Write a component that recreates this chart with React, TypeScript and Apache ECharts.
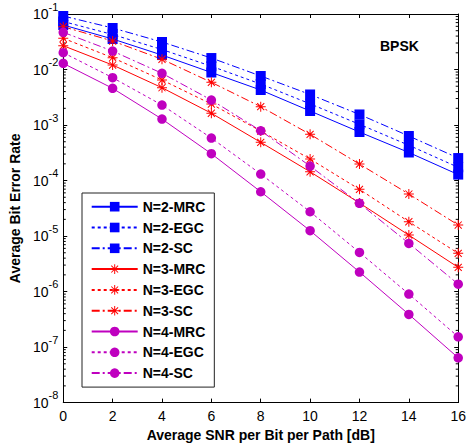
import React, { useEffect, useRef } from 'react';
import * as echarts from 'echarts';

// SNR per bit per path [dB]
const snr = [0, 2, 4, 6, 8, 10, 12, 14, 16];

// N = 2
const ber2MRC = [0.0634, 0.0355, 0.0182, 0.00883, 0.00427, 0.00179, 0.000748, 0.00032, 0.000128];
const ber2EGC = [0.0733, 0.0427, 0.0229, 0.01145, 0.00548, 0.00241, 0.00103, 0.000432, 0.000173];
const ber2SC = [0.092, 0.056, 0.0313, 0.0161, 0.00764, 0.00355, 0.00155, 0.000634, 0.000254];
// N = 3
const ber3MRC = [0.0268, 0.01205, 0.0047, 0.00163, 0.000488, 0.000144, 0.0000394, 0.0000104, 0.00000273];
const ber3EGC = [0.0365, 0.0163, 0.00647, 0.00239, 0.00078, 0.000244, 0.0000694, 0.0000181, 0.00000488];
const ber3SC = [0.059, 0.0326, 0.0153, 0.00588, 0.00214, 0.00068, 0.000198, 0.0000571, 0.0000158];
// N = 4
const ber4MRC = [0.0129, 0.00458, 0.00128, 0.000304, 0.0000628, 0.0000125, 0.00000225, 0.000000388, 0.0000000641];
const ber4EGC = [0.0201, 0.00712, 0.00229, 0.000583, 0.000131, 0.0000274, 0.00000508, 0.000000902, 0.000000153];
const ber4SC = [0.0468, 0.0215, 0.00855, 0.00282, 0.000789, 0.000182, 0.0000388, 0.00000738, 0.00000136];

const seriesNames = [
  'N=2-MRC', 'N=2-EGC', 'N=2-SC',
  'N=3-MRC', 'N=3-EGC', 'N=3-SC',
  'N=4-MRC', 'N=4-EGC', 'N=4-SC',
];

// minor tick positions of the log axis (decade exponents x multipliers)
const decadeExps = [-8, -7, -6, -5, -4, -3, -2];
const minorMultipliers = [2, 3, 4, 5, 6, 7, 8, 9];

const FONT = '"Liberation Sans", Arial, Helvetica, sans-serif';
const BLUE = '#0000ff';
const RED = '#ff0000';
const PURPLE = '#bf00bf';
const SOLID = 'solid';
const DOTTED = [3, 3];
const DASHDOT = [8, 3, 2, 3];
const STAR =
  'path://M0,9L20,9L20,11L0,11Z M9,0L11,0L11,20L9,20Z M3.64,2.22L17.78,16.36L16.36,17.78L2.22,3.64Z M2.22,16.36L16.36,2.22L17.78,3.64L3.64,17.78Z';

function makeSeries(name: string, values: number[], color: string, dash: any, symbol: string, size: number) {
  return {
    type: 'line',
    name,
    data: snr.map((x, i) => [x, values[i]]),
    symbol,
    symbolSize: size,
    showSymbol: true,
    lineStyle: { color, width: 1, type: dash },
    itemStyle: { color, borderWidth: 0 },
    emphasis: { disabled: true },
    silent: true,
  };
}

export default function App() {
  const ref = useRef<HTMLDivElement>(null);

  useEffect(() => {
    if (!ref.current) return;
    const chart = echarts.init(ref.current, undefined, { renderer: 'svg' });

    const minorTickValues: number[] = [];
    decadeExps.forEach((e) => minorMultipliers.forEach((m) => minorTickValues.push(m * Math.pow(10, e))));

    const axisLine = { show: true, onZero: false, lineStyle: { color: '#000', width: 1 } };
    const axisTick = { show: true, inside: true, length: 4, lineStyle: { color: '#000', width: 1 } };

    const option: any = {
      animation: false,
      backgroundColor: '#fff',
      title: {
        text: 'BPSK',
        left: 380,
        top: 39,
        padding: 0,
        textStyle: { fontSize: 14, fontWeight: 'bold', fontFamily: FONT, color: '#000' },
      },
      grid: { left: 62.3, top: 14, width: 400, height: 388.6, containLabel: false },
      legend: {
        data: seriesNames,
        orient: 'vertical',
        left: 82,
        top: 193,
        padding: [5.7, 9, 6, 8.7],
        itemWidth: 46,
        itemHeight: 12,
        itemGap: 4.8,
        selectedMode: false,
        backgroundColor: '#fff',
        borderColor: '#222',
        borderWidth: 1,
        borderRadius: 0,
        textStyle: { fontSize: 14, fontWeight: 'bold', fontFamily: FONT, color: '#000', lineHeight: 16 },
      },
      xAxis: [
        {
          type: 'value',
          min: 0,
          max: 16,
          interval: 2,
          position: 'bottom',
          axisLine,
          axisTick,
          splitLine: { show: false },
          axisLabel: { color: '#000', fontSize: 14, fontFamily: FONT, margin: 6 },
          name: 'Average SNR per Bit per Path [dB]',
          nameLocation: 'middle',
          nameGap: 24,
          nameTextStyle: { fontSize: 14, fontWeight: 'bold', fontFamily: FONT, color: '#000' },
        },
        {
          type: 'value',
          min: 0,
          max: 16,
          interval: 2,
          position: 'top',
          axisLine,
          axisTick,
          splitLine: { show: false },
          axisLabel: { show: false },
        },
      ],
      yAxis: [
        {
          type: 'log',
          logBase: 10,
          min: 1e-8,
          max: 1e-1,
          splitNumber: 7,
          position: 'left',
          axisLine,
          axisTick,
          splitLine: { show: false },
          axisLabel: {
            margin: 5,
            formatter: (v: number) => `{b|10}{s|${Math.round(Math.log10(v))}}`,
            rich: {
              b: { fontSize: 14, fontFamily: FONT, color: '#000' },
              s: { fontSize: 11, fontFamily: FONT, color: '#000', padding: [0, 0, 15, 0] },
            },
          },
          name: 'Average Bit Error Rate',
          nameLocation: 'middle',
          nameRotate: 90,
          nameGap: 40,
          nameTextStyle: { fontSize: 14, fontWeight: 'bold', fontFamily: FONT, color: '#000' },
        },
        {
          type: 'log',
          logBase: 10,
          min: 1e-8,
          max: 1e-1,
          splitNumber: 7,
          position: 'right',
          axisLine,
          axisTick,
          splitLine: { show: false },
          axisLabel: { show: false },
        },
      ],
      series: [
        {
          type: 'custom',
          name: 'minorTicks',
          silent: true,
          clip: false,
          xAxisIndex: 0,
          yAxisIndex: 0,
          data: minorTickValues.map((v) => [0, v]),
          renderItem: (params: any, api: any) => {
            const p = api.coord([0, api.value(1)]);
            const cs = params.coordSys;
            const style = { stroke: '#000', lineWidth: 1 };
            return {
              type: 'group',
              children: [
                { type: 'line', shape: { x1: cs.x, y1: p[1], x2: cs.x + 2.5, y2: p[1] }, style },
                { type: 'line', shape: { x1: cs.x + cs.width, y1: p[1], x2: cs.x + cs.width - 2.5, y2: p[1] }, style },
              ],
            };
          },
        },
        makeSeries(seriesNames[0], ber2MRC, BLUE, SOLID, 'rect', 10),
        makeSeries(seriesNames[1], ber2EGC, BLUE, DOTTED, 'rect', 10),
        makeSeries(seriesNames[2], ber2SC, BLUE, DASHDOT, 'rect', 10),
        makeSeries(seriesNames[3], ber3MRC, RED, SOLID, STAR, 10),
        makeSeries(seriesNames[4], ber3EGC, RED, DOTTED, STAR, 10),
        makeSeries(seriesNames[5], ber3SC, RED, DASHDOT, STAR, 10),
        makeSeries(seriesNames[6], ber4MRC, PURPLE, SOLID, 'circle', 9.5),
        makeSeries(seriesNames[7], ber4EGC, PURPLE, DOTTED, 'circle', 9.5),
        makeSeries(seriesNames[8], ber4SC, PURPLE, DASHDOT, 'circle', 9.5),
      ],
    };

    chart.setOption(option);
    return () => chart.dispose();
  }, []);

  return (
    <div
      ref={ref}
      style={{ position: 'fixed', left: 0, top: 0, width: 469, height: 448, background: '#fff' }}
    />
  );
}
